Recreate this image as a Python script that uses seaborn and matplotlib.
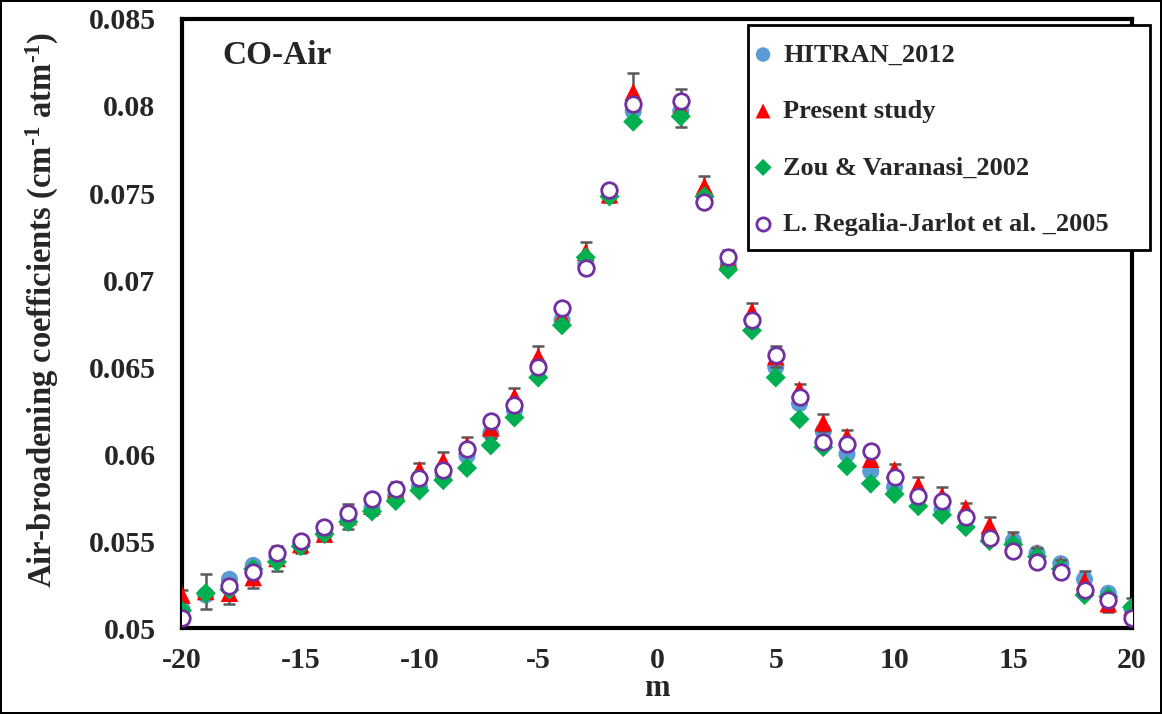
import numpy as np
import pandas as pd
import matplotlib
matplotlib.use("Agg")
import matplotlib.pyplot as plt
from matplotlib.ticker import MultipleLocator
from matplotlib.patches import Rectangle
import seaborn as sns

# ---------------- data ----------------
m_values = list(range(-20, 0)) + list(range(1, 21))

hitran_2012 = [0.0511, 0.0519, 0.0528, 0.0536, 0.0541, 0.0548, 0.0554, 0.0563, 0.0569, 0.0576,
               0.0581, 0.0588, 0.0599, 0.0612, 0.0625, 0.0651, 0.0677, 0.0709, 0.0749, 0.0797,
               0.0797, 0.0748, 0.0709, 0.0677, 0.0650, 0.0629, 0.0613, 0.0600, 0.0590, 0.0581,
               0.0575, 0.0568, 0.0564, 0.0553, 0.0550, 0.0543, 0.0537, 0.0528, 0.0520, 0.0511]

present_study = [0.0519, 0.0521, 0.0520, 0.0529, 0.0540, 0.0548, 0.0554, 0.0564, 0.0570, 0.0579,
                 0.0591, 0.0596, 0.0605, 0.0615, 0.0633, 0.0656, 0.0679, 0.0716, 0.0749, 0.0808,
                 0.0799, 0.0754, 0.0712, 0.0682, 0.0656, 0.0637, 0.0618, 0.0610, 0.0597, 0.0591,
                 0.0582, 0.0576, 0.0569, 0.0559, 0.0550, 0.0543, 0.0536, 0.0527, 0.0514, 0.0512]

present_err = [0.0003, 0.0010, 0.0006, 0.0006, 0.0007, 0.0005, 0.0003, 0.0007, 0.0005, 0.0005,
               0.0004, 0.0005, 0.0005, 0.0006, 0.0005, 0.0006, 0.0005, 0.0006, 0.0004, 0.0011,
               0.0011, 0.0006, 0.0005, 0.0005, 0.0006, 0.0003, 0.0005, 0.0004, 0.0003, 0.0003,
               0.0005, 0.0005, 0.0003, 0.0005, 0.0005, 0.0003, 0.0003, 0.0006, 0.0005, 0.0005]

zou_varanasi_2002 = [0.0510, 0.0520, 0.0522, 0.0534, 0.0538, 0.0547, 0.0554, 0.0561, 0.0567, 0.0573,
                     0.0579, 0.0585, 0.0592, 0.0605, 0.0621, 0.0644, 0.0674, 0.0713, 0.0748, 0.0791,
                     0.0794, 0.0748, 0.0706, 0.0671, 0.0644, 0.0620, 0.0604, 0.0593, 0.0583, 0.0577,
                     0.0570, 0.0565, 0.0558, 0.0550, 0.0548, 0.0541, 0.0534, 0.0519, 0.0518, 0.0512]

regalia_jarlot_2005 = [0.0506, np.nan, 0.0524, 0.0532, 0.0543, 0.0550, 0.0558, 0.0566, 0.0574, 0.0580,
                       0.0586, 0.0591, 0.0603, 0.0619, 0.0628, 0.0650, 0.0684, 0.0707, 0.0752, 0.0801,
                       0.0803, 0.0745, 0.0713, 0.0677, 0.0657, 0.0633, 0.0607, 0.0606, 0.0602, 0.0587,
                       0.0576, 0.0573, 0.0564, 0.0552, 0.0544, 0.0538, 0.0532, 0.0522, 0.0516, 0.0506]

labels = ["HITRAN_2012", "Present study", "Zou & Varanasi_2002", "L. Regalia-Jarlot et al. _2005"]
x_ticks = [-20, -15, -10, -5, 0, 5, 10, 15, 20]
y_ticks = [0.05, 0.055, 0.06, 0.065, 0.07, 0.075, 0.08, 0.085]
y_tick_labels = ["0.05", "0.055", "0.06", "0.065", "0.07", "0.075", "0.08", "0.085"]

df = pd.DataFrame({"m": m_values, "hitran": hitran_2012, "present": present_study,
                   "err": present_err, "zou": zou_varanasi_2002, "regalia": regalia_jarlot_2005})

# ---------------- style ----------------
sns.set_style("white")
plt.rcParams["font.family"] = ["Liberation Serif", "DejaVu Serif"]
plt.rcParams["font.weight"] = "bold"
plt.rcParams["axes.unicode_minus"] = False
plt.rcParams["mathtext.fontset"] = "custom"
plt.rcParams["mathtext.rm"] = "Liberation Serif:bold"
plt.rcParams["mathtext.it"] = "Liberation Serif:bold"
plt.rcParams["mathtext.bf"] = "Liberation Serif:bold"

fig = plt.figure(figsize=(11.62, 7.14), dpi=100, linewidth=1.5, edgecolor="black")
ax = fig.add_axes([0.1566, 0.1204, 0.8176, 0.853])

blue = "#5B9BD5"
red = "#FF0000"
green = "#00B050"
purple = "#7030A0"

sns.scatterplot(data=df, x="m", y="hitran", ax=ax, marker="o", s=150, color=blue,
                edgecolor="none", label=labels[0], zorder=2)
ax.errorbar(df["m"], df["present"], yerr=df["err"], fmt="none", ecolor="#595959",
            elinewidth=1.8, capsize=4.5, capthick=1.8, zorder=2.5)
sns.scatterplot(data=df, x="m", y="present", ax=ax, marker="^", s=160, color=red,
                edgecolor="none", label=labels[1], zorder=3)
sns.scatterplot(data=df, x="m", y="zou", ax=ax, marker="D", s=105, color=green,
                edgecolor="none", label=labels[2], zorder=4)
sns.scatterplot(data=df, x="m", y="regalia", ax=ax, marker="o", s=125, facecolor="white",
                edgecolor=purple, linewidth=2.0, label=labels[3], zorder=5)

ax.set_xlim(-20, 20)
ax.set_ylim(0.05, 0.085)
ax.set_xticks(x_ticks)
ax.set_yticks(y_ticks)
ax.xaxis.set_minor_locator(MultipleLocator(1))
ax.yaxis.set_minor_locator(MultipleLocator(0.001))
ax.set_yticklabels(y_tick_labels)
ax.tick_params(axis="both", which="major", direction="in", length=8, width=2.5,
               labelsize=21.5)
ax.tick_params(axis="both", which="minor", direction="in", length=5, width=2.5)
ax.tick_params(axis="x", which="major", pad=14)
ax.tick_params(axis="y", which="major", pad=19)
for lab in ax.get_xticklabels() + ax.get_yticklabels():
    lab.set_fontweight("bold")

for sp in ax.spines.values():
    sp.set_linewidth(3)
    sp.set_color("black")

ax.set_xlabel("m", fontsize=22, fontweight="bold", labelpad=0)
ax.set_ylabel(r"Air-broadening coefficients (cm$^{\text{-1}}$ atm$^{\text{-1}}$)",
              fontsize=23.5, fontweight="bold", labelpad=20)
ax.yaxis.label.set_y(0.522)

ax.text(0.043, 0.94, "CO-Air", transform=ax.transAxes, fontsize=24, fontweight="bold",
        ha="left", va="center")

# legend frame drawn separately so the entries can sit close to its edge
frame = Rectangle((0.6437, 0.6499), 0.346, 0.3151, transform=fig.transFigure,
                  facecolor="white", edgecolor="black", linewidth=2, zorder=8, clip_on=False)
ax.add_patch(frame)
leg = ax.legend(loc="upper left", bbox_to_anchor=(0.6476, 0.9398), bbox_transform=fig.transFigure,
                frameon=False, fontsize=19, handletextpad=0.36,
                labelspacing=1.25, borderpad=0, handlelength=0.8, markerscale=0.85,
                borderaxespad=0)
leg.set_zorder(9)
for t in leg.get_texts():
    t.set_fontweight("bold")

fig.savefig("out.png", dpi=100)
